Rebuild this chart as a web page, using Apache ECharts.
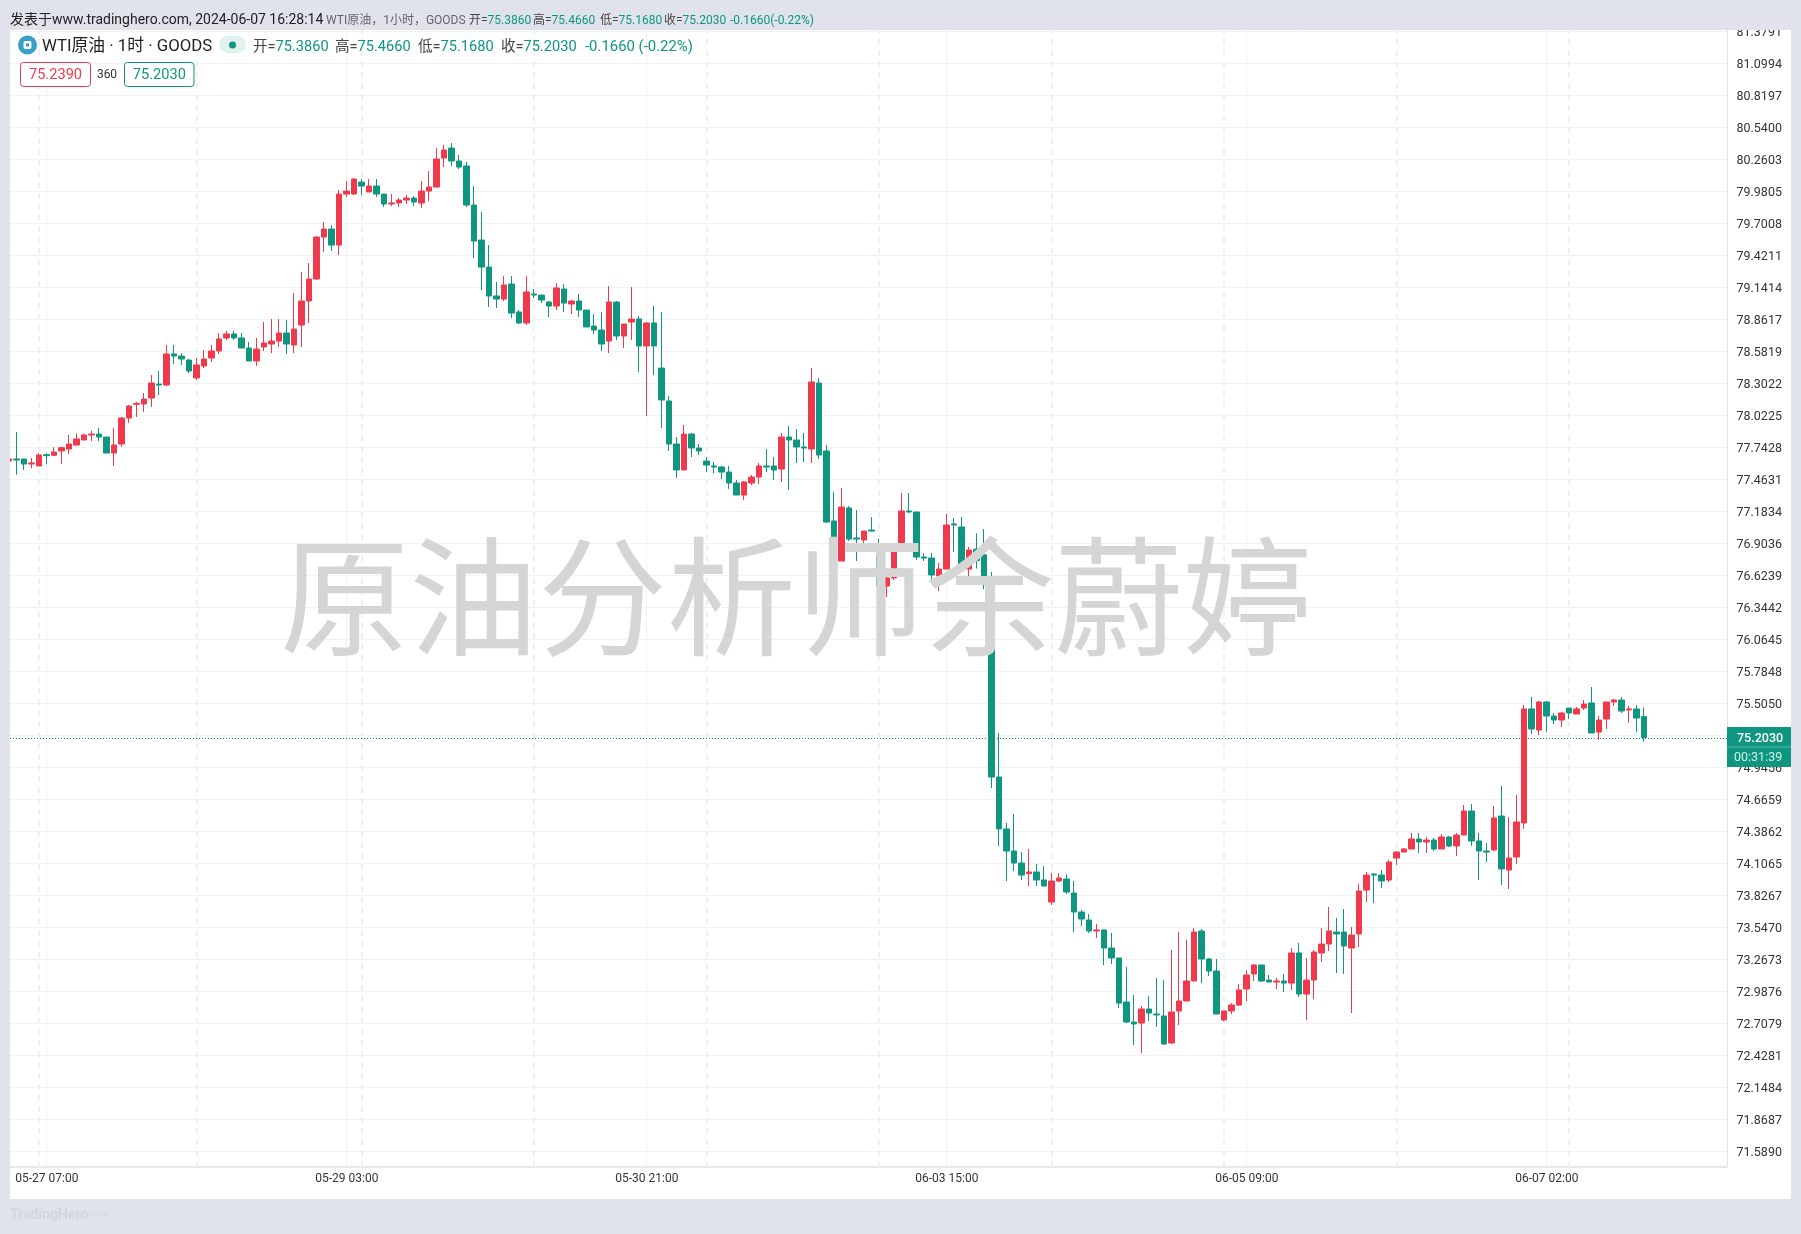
<!DOCTYPE html>
<html><head><meta charset="utf-8">
<style>html,body{margin:0;padding:0;background:#e0e3ec}#c{width:1801px;height:1234px}</style>
<script src="https://cdn.jsdelivr.net/npm/echarts@6/dist/echarts.min.js"></script>
</head><body><div id="c"></div>
<script>
// open, close, low, high per hourly bar
const ohlc = [
[77.62,77.638,77.62,77.638],[77.638,77.629,77.501,77.874],[77.638,77.594,77.542,77.638],[77.594,77.603,77.559,77.647],[77.577,77.673,77.577,77.69],
[77.676,77.667,77.594,77.687],[77.67,77.699,77.664,77.74],[77.708,77.737,77.594,77.746],[77.725,77.769,77.682,77.848],[77.76,77.813,77.76,77.862],
[77.804,77.848,77.804,77.862],[77.848,77.856,77.795,77.885],[77.856,77.83,77.795,77.909],[77.83,77.69,77.69,77.83],[77.69,77.76,77.577,77.909],
[77.769,77.996,77.743,78.005],[77.996,78.101,77.952,78.11],[78.116,78.124,78.005,78.136],[78.119,78.162,78.049,78.215],[78.171,78.302,78.092,78.372],
[78.293,78.285,78.197,78.407],[78.285,78.556,78.276,78.634],[78.556,78.538,78.468,78.634],[78.538,78.512,78.46,78.564],[78.503,78.407,78.39,78.512],
[78.346,78.46,78.328,78.521],[78.451,78.512,78.433,78.591],[78.521,78.582,78.486,78.634],[78.582,78.687,78.556,78.739],[78.696,78.731,78.678,78.757],
[78.731,78.696,78.678,78.757],[78.696,78.608,78.608,78.739],[78.608,78.495,78.495,78.661],[78.495,78.599,78.451,78.696],[78.617,78.652,78.582,78.835],
[78.643,78.669,78.564,78.862],[78.669,78.739,78.617,78.862],[78.739,78.643,78.556,78.853],[78.634,78.774,78.564,79.089],[78.809,79.019,78.617,79.272],
[79.019,79.211,78.827,79.351],[79.211,79.578,79.202,79.587],[79.578,79.648,79.447,79.709],[79.648,79.508,79.456,79.683],[79.508,79.954,79.421,79.989],
[79.954,79.98,79.928,80.068],[79.954,80.085,79.945,80.094],[80.059,80.024,79.945,80.085],[79.972,80.024,79.972,80.085],[80.024,79.954,79.928,80.085],
[79.954,79.867,79.841,79.954],[79.867,79.876,79.849,79.954],[79.876,79.902,79.841,79.919],[79.902,79.919,79.867,79.945],[79.919,79.884,79.849,79.937],
[79.876,79.98,79.832,80.068],[79.98,80.015,79.893,80.155],[80.015,80.26,80.015,80.356],[80.269,80.339,80.19,80.383],[80.356,80.243,80.199,80.4],
[80.243,80.19,80.173,80.295],[80.199,79.858,79.841,80.234],[79.858,79.543,79.395,80.024],[79.552,79.316,79.115,79.797],[79.316,79.063,78.966,79.508],
[79.063,79.036,78.958,79.185],[79.036,79.159,79.019,79.237],[79.167,78.914,78.87,79.237],[78.923,78.827,78.818,78.94],[78.827,79.098,78.809,79.237],
[79.08,79.071,79.045,79.124],[79.071,79.028,79.001,79.071],[79.01,78.975,78.879,79.019],[78.975,79.133,78.94,79.176],[79.124,79.001,78.923,79.167],
[78.993,79.019,78.905,79.028],[79.019,78.94,78.879,79.08],[78.94,78.792,78.792,78.94],[78.8,78.765,78.73,78.905],[78.765,78.643,78.582,78.923],
[78.669,79.01,78.564,79.15],[79.01,78.713,78.678,79.019],[78.713,78.818,78.608,78.818],[78.835,78.861,78.678,79.141],[78.862,78.626,78.398,78.888],
[78.626,78.827,78.014,78.835],[78.827,78.626,78.372,78.975],[78.433,78.154,77.909,78.923],[78.145,77.769,77.708,78.188],[77.769,77.542,77.472,77.83],
[77.542,77.856,77.542,77.935],[77.856,77.734,77.655,77.865],[77.734,77.708,77.673,77.769],[77.62,77.585,77.524,77.655],[77.577,77.568,77.515,77.612],
[77.568,77.524,77.463,77.577],[77.524,77.428,77.376,77.577],[77.428,77.323,77.323,77.454],[77.323,77.437,77.279,77.445],[77.428,77.48,77.41,77.498],
[77.48,77.577,77.419,77.603],[77.577,77.568,77.524,77.725],[77.577,77.542,77.454,77.655],[77.55,77.83,77.437,77.865],[77.83,77.804,77.367,77.926],
[77.804,77.743,77.603,77.9],[77.743,77.734,77.612,77.865],[77.725,78.311,77.603,78.433],[78.302,77.673,77.638,78.346],[77.708,77.087,77.078,77.76],
[77.096,76.755,76.501,77.349],[76.746,77.218,76.746,77.384],[77.21,76.938,76.921,77.227],[76.947,76.938,76.746,77.192],[76.93,77.008,76.877,77.008],
[77.017,77.008,77.008,77.131],[76.79,76.528,76.239,76.939],[76.528,76.598,76.431,76.62],[76.598,76.827,76.58,76.85],[76.851,77.183,76.851,77.341],
[77.183,77.175,77.166,77.341],[77.175,76.781,76.755,77.175],[76.781,76.772,76.746,76.816],[76.772,76.624,76.563,76.816],[76.615,76.676,76.484,76.729],
[76.676,77.061,76.676,77.157],[77.07,77.061,76.825,77.122],[77.043,76.676,76.676,77.131],[76.676,76.842,76.554,76.869],[76.85,76.75,76.68,76.988],
[76.8,76.54,76.5,77.026],[76.536,74.858,74.762,76.65],[74.858,74.404,74.255,75.243],[74.404,74.211,73.949,74.456],[74.211,74.106,74.036,74.535],
[74.106,74.001,73.958,74.202],[74.013,74.028,73.905,74.229],[74.028,73.958,73.905,74.098],[73.958,73.905,73.905,74.08],[73.765,73.949,73.739,74.019],
[73.949,73.975,73.94,74.019],[73.966,73.853,73.835,74.01],[73.844,73.678,73.503,73.949],[73.678,73.617,73.556,73.695],[73.608,73.512,73.494,73.66],
[73.512,73.521,73.451,73.573],[73.521,73.363,73.215,73.521],[73.363,73.276,73.223,73.494],[73.276,72.882,72.839,73.276],[72.891,72.716,72.708,73.197],
[72.716,72.699,72.515,72.952],[72.708,72.83,72.445,72.856],[72.83,72.795,72.725,72.944],[72.786,72.778,72.673,73.101],[72.769,72.524,72.515,73.083],
[72.533,72.804,72.524,73.346],[72.812,72.9,72.69,73.503],[72.9,73.075,72.9,73.433],[73.075,73.503,73.075,73.538],[73.512,73.267,73.057,73.529],
[73.267,73.162,73.118,73.276],[73.162,72.786,72.786,73.267],[72.734,72.813,72.725,72.813],[72.813,72.865,72.786,72.882],[72.865,72.996,72.856,73.049],
[73.005,73.127,72.9,73.171],[73.136,73.215,73.075,73.223],[73.215,73.075,73.066,73.215],[73.083,73.066,73.066,73.127],[73.066,73.075,73.005,73.101],
[73.075,73.057,72.979,73.136],[73.057,73.32,72.996,73.363],[73.32,72.961,72.935,73.407],[72.961,73.083,72.734,73.276],[73.083,73.328,72.917,73.346],
[73.32,73.398,73.241,73.538],[73.398,73.512,73.337,73.722],[73.503,73.486,73.145,73.626],[73.503,73.381,73.136,73.704],[73.363,73.477,72.795,73.547],
[73.486,73.862,73.372,73.923],[73.87,74.001,73.765,74.028],[74.01,74.001,73.757,74.019],[74.001,73.949,73.888,74.045],[73.958,74.115,73.94,74.133],
[74.15,74.202,74.089,74.211],[74.202,74.229,74.202,74.237],[74.229,74.316,74.229,74.369],[74.316,74.29,74.194,74.369],[74.29,74.307,74.194,74.334],
[74.307,74.229,74.211,74.325],[74.229,74.334,74.229,74.36],[74.334,74.255,74.246,74.342],[74.255,74.351,74.167,74.369],[74.351,74.561,74.351,74.613],
[74.561,74.299,74.255,74.622],[74.299,74.211,73.958,74.369],[74.211,74.202,74.115,74.281],[74.22,74.5,74.211,74.605],[74.517,74.054,73.914,74.779],
[74.045,74.15,73.879,74.508],[74.159,74.465,74.098,74.701],[74.456,75.453,74.404,75.488],[75.453,75.278,75.234,75.557],[75.269,75.514,75.225,75.522],
[75.514,75.391,75.251,75.522],[75.391,75.356,75.321,75.418],[75.356,75.418,75.295,75.426],[75.461,75.418,75.365,75.461],[75.409,75.453,75.409,75.47],
[75.461,75.496,75.444,75.531],[75.505,75.243,75.243,75.645],[75.251,75.356,75.182,75.391],[75.365,75.514,75.278,75.514],[75.514,75.531,75.479,75.54],
[75.531,75.435,75.418,75.557],[75.444,75.453,75.33,75.479],[75.453,75.374,75.251,75.488],[75.386,75.203,75.168,75.466]
];
const priceTicks = [81.3791,81.0994,80.8197,80.54,80.2603,79.9805,79.7008,79.4211,79.1414,78.8617,78.5819,78.3022,78.0225,77.7428,77.4631,77.1834,76.9036,76.6239,76.3442,76.0645,75.7848,75.505,75.2253,74.9456,74.6659,74.3862,74.1065,73.8267,73.547,73.2673,72.9876,72.7079,72.4281,72.1484,71.8687,71.589];
const timeLabels = ['05-27 07:00','05-29 03:00','05-30 21:00','06-03 15:00','06-05 09:00','06-07 02:00'];
const timeLabelBars = [5,45,85,125,165,205];
const dayBreakBars = [4,25,47,70,93,116,139,162,185,208];
const lastPrice = 75.203;
const countdown = '00:31:39';
const watermark = '原油分析师余蔚婷';

const UP = '#ef3a4d', DOWN = '#0e9680', GRID = '#f1f2f5', BAND = '#e0e3ec';
const FONT = 'Roboto, "Noto Sans CJK SC", sans-serif';
const chart = echarts.init(document.getElementById('c'), null, {renderer:'canvas', width:1801, height:1234});

function txt(x, y, text, fill, size, extra) {
  return {type:'text', x, y, z:30, silent:true, style:Object.assign({text, fill, font:size+'px '+FONT, textVerticalAlign:'middle', textAlign:'left'}, extra||{})};
}
function kv(x, y, key, val, size) {
  const rich = {k:{fill:'#444', fontSize:size, fontFamily:FONT}, v:{fill:DOWN, fontSize:size, fontFamily:FONT}};
  return {type:'text', x, y, z:30, silent:true, style:{text:'{k|'+key+'}{v|'+val+'}', rich, textVerticalAlign:'middle', textAlign:'left'}};
}
function band(x, y, w, h) {
  return {type:'rect', z:25, silent:true, shape:{x,y,width:w,height:h}, style:{fill:BAND}};
}
function box(x, w, c) {
  return {type:'rect', z:30, silent:true, shape:{x,y:62.5,width:w,height:24,r:3}, style:{fill:'#fff',stroke:c,lineWidth:1}};
}
const graphics = [
  band(0,0,1801,30), band(0,0,10,1234), band(1791,0,10,1234), band(0,1199,1801,35),
  {type:'text', x:280, y:597, z:20, silent:true, style:{text:watermark, fill:'#d5d5d5', font:'400 129px "Noto Sans CJK SC"', textVerticalAlign:'middle', textAlign:'left'}},
  txt(10,20.5,'发表于www.tradinghero.com, 2024-06-07 16:28:14','#222',14),
  txt(326,20.5,'WTI原油，1小时，GOODS','#666',12),
  kv(469,20.5,'开=','75.3860',12), kv(533,20.5,'高=','75.4660',12), kv(600,20.5,'低=','75.1680',12), kv(664,20.5,'收=','75.2030',12),
  txt(730,20.5,'-0.1660(-0.22%)',DOWN,12),
  {type:'circle', z:30, silent:true, shape:{cx:27.5,cy:45,r:9.5}, style:{fill:'#3a9fc9'}},
  {type:'rect', z:31, silent:true, shape:{x:23.5,y:41,width:8,height:8,r:2}, style:{fill:'#fff'}},
  {type:'rect', z:32, silent:true, shape:{x:26,y:43.5,width:3,height:3}, style:{fill:'#3a9fc9'}},
  txt(42,47,'WTI原油 · 1时 · GOODS','#222',16.8),
  {type:'rect', z:30, silent:true, shape:{x:219,y:36,width:27,height:17,r:8.5}, style:{fill:'#dff2ee'}},
  {type:'circle', z:31, silent:true, shape:{cx:232.5,cy:45,r:3.5}, style:{fill:DOWN}},
  kv(253,47.5,'开=','75.3860',14.6), kv(335,47.5,'高=','75.4660',14.6), kv(418,47.5,'低=','75.1680',14.6), kv(501,47.5,'收=','75.2030',14.6),
  txt(585,47.5,'-0.1660 (-0.22%)',DOWN,14.9),
  box(20.5,70,'#e2404f'), txt(55.5,75,'75.2390',UP,14.6,{textAlign:'center'}),
  txt(107,75,'360','#333',12,{textAlign:'center'}),
  box(124.5,69.5,'#0e8f7b'), txt(159.3,75,'75.2030',DOWN,14.6,{textAlign:'center'}),
  {type:'text', x:10, y:1215, z:30, silent:true, style:{text:'{a|TradingHero}{b|.com}', textVerticalAlign:'middle', rich:{a:{fill:'#d3d6df',fontSize:14,fontWeight:'bold',fontFamily:FONT},b:{fill:'#d3d6df',fontSize:9,fontFamily:FONT}}}}
];

const dashStyle = {color:'#eff0f3', width:2, type:[6,5]};
chart.setOption({
  animation:false,
  backgroundColor:'#ffffff',
  grid:{left:10, right:74, top:30, bottom:67},
  xAxis:{
    type:'value', min:0.16, max:229.0933, scale:true,
    axisLine:{show:true, onZero:false, lineStyle:{color:'#e6e8ee', width:2}},
    axisTick:{show:false, customValues:timeLabelBars},
    splitLine:{show:true, lineStyle:{color:GRID, width:1}},
    axisLabel:{customValues:timeLabelBars, margin:6, fontSize:12, color:'#333', fontFamily:FONT, padding:[0,0,0,1],
      formatter:v=>timeLabels[timeLabelBars.indexOf(v)]||''}
  },
  yAxis:{
    type:'value', position:'right', min:71.449, max:81.388, scale:true,
    axisLine:{show:true, lineStyle:{color:'#e0e3eb', width:1}},
    axisTick:{show:false, customValues:priceTicks},
    splitLine:{show:true, lineStyle:{color:GRID, width:1}},
    axisLabel:{customValues:priceTicks, margin:9.5, fontSize:12.5, color:'#333', fontFamily:FONT,
      rich:{p:{padding:[3,0,0,0], fontSize:12.5, color:'#333', fontFamily:FONT}},
      formatter:v=>'{p|'+v.toFixed(4)+'}'}
  },
  series:[{
    type:'candlestick',
    barWidth:6,
    encode:{x:0, y:[1,2,3,4]},
    data:ohlc.map((r,i)=>[i,r[0],r[1],r[2],r[3]]),
    itemStyle:{color:UP, color0:DOWN, borderColor:UP, borderColor0:DOWN, borderWidth:1},
    markLine:{
      silent:true, symbol:'none', z:1, animation:false,
      label:{show:false},
      data:dayBreakBars.map(b=>({xAxis:b, lineStyle:dashStyle}))
        .concat([{yAxis:lastPrice, lineStyle:{color:'#0b8a75', width:1, type:[1,2]}}])
    }
  }],
  graphic:graphics
});

const py = chart.convertToPixel({yAxisIndex:0}, lastPrice);
chart.setOption({graphic:graphics.concat([
  {type:'rect', z:26, silent:true, shape:{x:1727,y:py-10.5,width:64,height:40}, style:{fill:DOWN}},
  {type:'line', z:27, silent:true, shape:{x1:1727,y1:py+9.5,x2:1791,y2:py+9.5}, style:{stroke:'#5db8a8',lineWidth:1}},
  txt(1737,py+1,lastPrice.toFixed(4),'#fff',12.5,{font:'500 12.5px '+FONT}),
  txt(1734,py+20.5,countdown,'#cfeee8',12.5)
])});
</script></body></html>
